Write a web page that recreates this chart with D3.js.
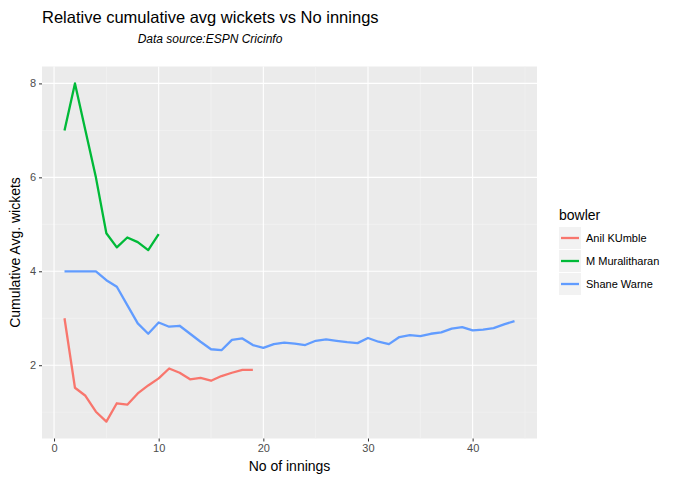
<!DOCTYPE html>
<html><head><meta charset="utf-8">
<script src="https://cdn.jsdelivr.net/npm/d3@7"></script>
<style>body{margin:0;background:#fff}text{font-family:Arial,"Liberation Sans",sans-serif}</style>
</head><body><svg id="c" width="676" height="482"></svg>
<script>
const bowlers = ["Anil KUmble","M Muralitharan","Shane Warne"];
const colors = ["#F8766D","#00BA38","#619CFF"];
const kumble = [3.0,1.52,1.35,1.01,0.8,1.19,1.16,1.40,1.57,1.72,1.93,1.84,1.70,1.73,1.67,1.77,1.84,1.90,1.90];
const murali = [7.0,8.0,7.0,6.0,4.81,4.51,4.72,4.62,4.45,4.79];
const warne = [4.0,4.0,4.0,4.0,3.81,3.67,3.28,2.89,2.67,2.91,2.82,2.84,2.67,2.50,2.34,2.32,2.54,2.57,2.43,2.37,
  2.45,2.48,2.46,2.43,2.52,2.55,2.52,2.49,2.47,2.58,2.50,2.45,2.60,2.64,2.62,2.67,2.70,2.78,2.81,2.74,2.76,2.79,2.87,2.94];
const xTicks = [0,10,20,30,40];
const yTicks = [2,4,6,8];
const seriesVals = [kumble, murali, warne];

const svg = d3.select("#c");
const L = 42, R = 537, T = 66.5, B = 438.5;
const x = d3.scaleLinear().domain([-1.15, 46.15]).range([L, R]);
const y = d3.scaleLinear().domain([0.44, 8.36]).range([B, T]);

svg.append("rect").attr("x",L).attr("y",T).attr("width",R-L).attr("height",B-T).attr("fill","#EBEBEB");
const g = svg.append("g");
// minor grid
[5,15,25,35,45].forEach(v=>g.append("line").attr("x1",x(v)).attr("x2",x(v)).attr("y1",T).attr("y2",B).attr("stroke","#F5F5F5").attr("stroke-width",0.6));
[1,3,5,7].forEach(v=>g.append("line").attr("y1",y(v)).attr("y2",y(v)).attr("x1",L).attr("x2",R).attr("stroke","#F5F5F5").attr("stroke-width",0.6));
xTicks.forEach(v=>g.append("line").attr("x1",x(v)).attr("x2",x(v)).attr("y1",T).attr("y2",B).attr("stroke","#fff").attr("stroke-width",1.1));
yTicks.forEach(v=>g.append("line").attr("y1",y(v)).attr("y2",y(v)).attr("x1",L).attr("x2",R).attr("stroke","#fff").attr("stroke-width",1.1));

const line = d3.line().x((d,i)=>x(i+1)).y(d=>y(d));
seriesVals.forEach((s,k)=>{
  svg.append("path").datum(s).attr("d",line).attr("fill","none").attr("stroke",colors[k]).attr("stroke-width",2.3).attr("stroke-linejoin","round");
});

// axes
const xa = svg.append("g").attr("transform",`translate(0,${B})`).call(d3.axisBottom(x).tickValues(xTicks).tickSize(3).tickPadding(3));
const ya = svg.append("g").attr("transform",`translate(${L},0)`).call(d3.axisLeft(y).tickValues(yTicks).tickSize(3).tickPadding(3));
[xa,ya].forEach(a=>{a.select(".domain").remove();a.selectAll(".tick line").attr("stroke","#333");
  a.selectAll("text").attr("fill","#4D4D4D").style("font-size","11px").style("font-family","Arial, 'Liberation Sans', sans-serif");});

svg.append("text").attr("x",L).attr("y",23).text("Relative cumulative avg wickets vs No innings").style("font-size","16.5px").attr("fill","#000");
svg.append("text").attr("x",210).attr("y",43).attr("text-anchor","middle").text("Data source:ESPN Cricinfo").style("font-size","12px").style("font-style","italic");
svg.append("text").attr("x",(L+R)/2).attr("y",471).attr("text-anchor","middle").text("No of innings").style("font-size","14px");
svg.append("text").attr("transform",`translate(20,${(T+B)/2}) rotate(-90)`).attr("text-anchor","middle").text("Cumulative Avg. wickets").style("font-size","14px");

// legend
svg.append("text").attr("x",559).attr("y",220).text("bowler").style("font-size","14px");
bowlers.forEach((b,i)=>{
  const ky = 227 + i*23;
  svg.append("rect").attr("x",559).attr("y",ky).attr("width",22).attr("height",22).attr("fill","#F2F2F2");
  svg.append("line").attr("x1",561).attr("x2",579).attr("y1",ky+11).attr("y2",ky+11).attr("stroke",colors[i]).attr("stroke-width",2.3);
  svg.append("text").attr("x",586).attr("y",ky+15).text(b).style("font-size","11px");
});
</script></body></html>
